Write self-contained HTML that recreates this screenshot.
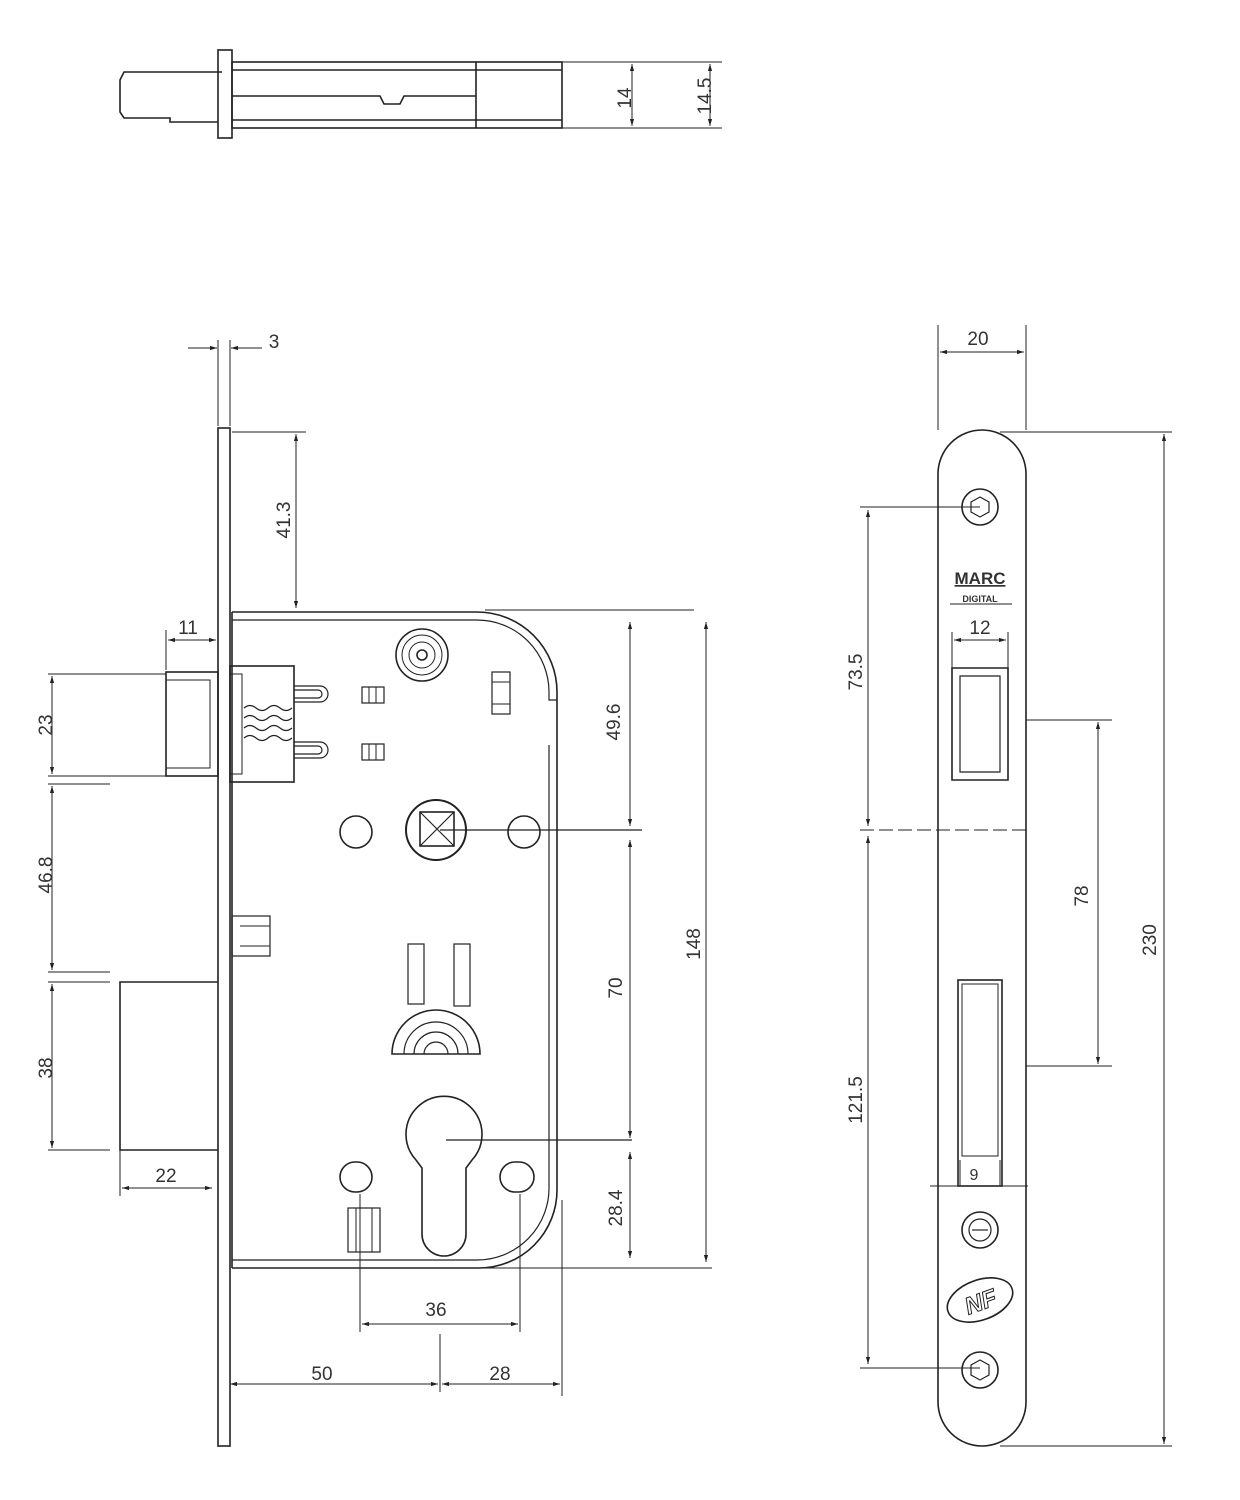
<!DOCTYPE html>
<html><head><meta charset="utf-8"><style>
html,body{margin:0;padding:0;background:#fff;}
svg{display:block;}
text{font-family:"Liberation Sans",sans-serif;font-size:19px;fill:#333;}
</style></head><body>
<svg width="1240" height="1500" viewBox="0 0 1240 1500" xmlns="http://www.w3.org/2000/svg">
<defs>
<marker id="a" viewBox="0 0 10 10" refX="10" refY="5" markerWidth="7" markerHeight="7" orient="auto-start-reverse"><path d="M0,2 L10,5 L0,8 z" fill="#222"/></marker>
</defs>
<g fill="none" stroke="#222" stroke-width="1.6">
<!-- TOP VIEW -->
<path d="M222,72 L124,72 L120,80 L120,112 L124,118 L170,118 L170,122 L218,122"/>
<rect x="218" y="50" width="14" height="88"/>
<rect x="232" y="62" width="330" height="66"/>
<line x1="232" y1="70" x2="562" y2="70"/>
<line x1="232" y1="120" x2="562" y2="120"/>
<line x1="476" y1="62" x2="476" y2="128"/>
<path d="M232,96 L380,96 L384,104 L400,104 L404,96 L476,96"/>
<line x1="562" y1="62" x2="722" y2="62" stroke-width="1"/>
<line x1="562" y1="128" x2="722" y2="128" stroke-width="1"/>
<line x1="632" y1="64" x2="632" y2="126" stroke-width="1" marker-start="url(#a)" marker-end="url(#a)"/>
<line x1="710" y1="64" x2="710" y2="126" stroke-width="1" marker-start="url(#a)" marker-end="url(#a)"/>

<!-- MAIN LOCK -->
<rect x="218" y="428" width="12" height="1018"/>
<path d="M232,612 L477,612 A80,80 0 0 1 557,692 L557,1190 A78,78 0 0 1 479,1268 L232,1268"/>
<path d="M232,620 L477,620 A72,72 0 0 1 549,692 L549,700 L557,700" stroke-width="1.2"/>
<path d="M549,745 L549,1186 A72,72 0 0 1 477,1260 L232,1260" stroke-width="1.2"/>
<line x1="232" y1="612" x2="232" y2="1268"/>
<!-- latch -->
<rect x="166" y="672" width="52" height="104"/>
<rect x="166" y="680" width="44" height="88" stroke-width="1"/>
<rect x="230" y="666" width="64" height="116"/>
<rect x="230" y="674" width="12" height="100" stroke-width="1"/>
<path d="M244,708 q6,-5 12,0 q6,5 12,0 q6,-5 12,0 q6,5 12,0 M244,718 q6,-5 12,0 q6,5 12,0 q6,-5 12,0 q6,5 12,0 M244,728 q6,-5 12,0 q6,5 12,0 q6,-5 12,0 q6,5 12,0 M244,738 q6,-5 12,0 q6,5 12,0 q6,-5 12,0 q6,5 12,0" stroke-width="1.2"/>
<path d="M294,686 L320,686 A8,8 0 0 1 320,702 L294,702 M294,690 L318,690 A4,4 0 0 1 318,698 L294,698" stroke-width="1.2"/>
<path d="M294,742 L320,742 A8,8 0 0 1 320,758 L294,758 M294,746 L318,746 A4,4 0 0 1 318,754 L294,754" stroke-width="1.2"/>
<rect x="362" y="687" width="22" height="16" stroke-width="1.2"/><line x1="369" y1="687" x2="369" y2="703" stroke-width="1"/><line x1="376" y1="687" x2="376" y2="703" stroke-width="1"/>
<rect x="362" y="744" width="22" height="16" stroke-width="1.2"/><line x1="369" y1="744" x2="369" y2="760" stroke-width="1"/><line x1="376" y1="744" x2="376" y2="760" stroke-width="1"/>
<circle cx="422" cy="655" r="26"/><circle cx="422" cy="655" r="20" stroke-width="1"/><circle cx="422" cy="655" r="13" stroke-width="1"/><circle cx="422" cy="655" r="5"/>
<rect x="492" y="672" width="18" height="42" stroke-width="1.2"/><line x1="492" y1="682" x2="510" y2="682" stroke-width="1"/><line x1="492" y1="704" x2="510" y2="704" stroke-width="1"/>
<circle cx="356" cy="832" r="16"/>
<circle cx="524" cy="832" r="16"/>
<circle cx="436" cy="830" r="30" stroke-width="2"/>
<rect x="420" y="812" width="34" height="34"/><path d="M420,812 L454,846 M454,812 L420,846" stroke-width="1.2"/>
<line x1="440" y1="830" x2="642" y2="830" stroke-width="1.2"/>
<!-- side small part -->
<rect x="232" y="916" width="38" height="40" stroke-width="1.2"/><line x1="240" y1="926" x2="270" y2="926" stroke-width="1"/><line x1="240" y1="946" x2="270" y2="946" stroke-width="1"/>
<!-- deadbolt -->
<path d="M218,982 L120,982 L120,1150 L218,1150"/>
<!-- slots -->
<rect x="408" y="944" width="16" height="60" stroke-width="1.2"/>
<rect x="454" y="944" width="16" height="62" stroke-width="1.2"/>
<path d="M392,1054 A44,44 0 0 1 480,1054 Z"/>
<path d="M404,1054 A32,32 0 0 1 468,1054 M414,1054 A22,22 0 0 1 458,1054 M424,1054 A12,12 0 0 1 448,1054" stroke-width="1.2"/>
<!-- cylinder -->
<path d="M416,1160 A38,38 0 1 1 472,1160 L466,1168 L466,1234 A22,22 0 0 1 422,1234 L422,1168 Z"/>
<line x1="446" y1="1140" x2="632" y2="1140" stroke-width="1.2"/>
<rect x="340" y="1162" width="32" height="30" rx="15"/>
<rect x="500" y="1162" width="34" height="30" rx="15"/>
<rect x="348" y="1208" width="32" height="44" stroke-width="1.2"/><line x1="356" y1="1208" x2="356" y2="1252" stroke-width="1"/><line x1="372" y1="1208" x2="372" y2="1252" stroke-width="1"/>
</g>
<g fill="none" stroke="#222" stroke-width="1">
<!-- dims main -->
<line x1="218" y1="340" x2="218" y2="426"/><line x1="230" y1="340" x2="230" y2="426"/>
<line x1="188" y1="348" x2="217" y2="348" marker-end="url(#a)"/><line x1="262" y1="348" x2="231" y2="348" marker-end="url(#a)"/>
<line x1="232" y1="432" x2="306" y2="432"/>
<line x1="296" y1="434" x2="296" y2="608" marker-start="url(#a)" marker-end="url(#a)"/>
<line x1="485" y1="610" x2="694" y2="610"/>
<line x1="166" y1="630" x2="166" y2="670"/>
<line x1="168" y1="640" x2="216" y2="640" marker-start="url(#a)" marker-end="url(#a)"/>
<line x1="48" y1="674" x2="166" y2="674"/><line x1="48" y1="776" x2="166" y2="776"/>
<line x1="52" y1="676" x2="52" y2="774" marker-start="url(#a)" marker-end="url(#a)"/>
<line x1="48" y1="784" x2="110" y2="784"/><line x1="48" y1="972" x2="110" y2="972"/>
<line x1="52" y1="786" x2="52" y2="970" marker-start="url(#a)" marker-end="url(#a)"/>
<line x1="48" y1="982" x2="110" y2="982"/><line x1="48" y1="1150" x2="110" y2="1150"/>
<line x1="52" y1="984" x2="52" y2="1148" marker-start="url(#a)" marker-end="url(#a)"/>
<line x1="120" y1="1150" x2="120" y2="1196"/>
<line x1="122" y1="1188" x2="212" y2="1188" marker-start="url(#a)" marker-end="url(#a)"/>
<line x1="630" y1="622" x2="630" y2="826" marker-start="url(#a)" marker-end="url(#a)"/>
<line x1="630" y1="840" x2="630" y2="1138" marker-start="url(#a)" marker-end="url(#a)"/>
<line x1="630" y1="1152" x2="630" y2="1258" marker-start="url(#a)" marker-end="url(#a)"/>
<line x1="485" y1="1268" x2="712" y2="1268"/>
<line x1="706" y1="622" x2="706" y2="1262" marker-start="url(#a)" marker-end="url(#a)"/>
<line x1="360" y1="1194" x2="360" y2="1332"/><line x1="520" y1="1194" x2="520" y2="1332"/>
<line x1="362" y1="1324" x2="518" y2="1324" marker-start="url(#a)" marker-end="url(#a)"/>
<line x1="440" y1="1334" x2="440" y2="1392"/><line x1="562" y1="1200" x2="562" y2="1396"/>
<line x1="230" y1="1384" x2="438" y2="1384" marker-start="url(#a)" marker-end="url(#a)"/>
<line x1="442" y1="1384" x2="560" y2="1384" marker-start="url(#a)" marker-end="url(#a)"/>
</g>
<g fill="none" stroke="#222" stroke-width="1.6">
<!-- RIGHT FACEPLATE -->
<rect x="938" y="430" width="88" height="1016" rx="44"/>
<circle cx="980" cy="507" r="18"/><polygon points="980,497 989,502 989,512 980,517 971,512 971,502" stroke-width="1.2"/>
<circle cx="980" cy="1370" r="18"/><polygon points="980,1360 989,1365 989,1375 980,1380 971,1375 971,1365" stroke-width="1.2"/>
<path d="M952,668 L1008,668 L1008,780 L952,780 Z"/>
<path d="M960,676 L1000,676 L1000,772 L960,772 Z" stroke-width="1.2"/>
<rect x="958" y="980" width="44" height="206"/>
<rect x="962" y="984" width="36" height="172" stroke-width="1"/>
<circle cx="980" cy="1230" r="18"/><circle cx="980" cy="1230" r="11" stroke-width="1.2"/><line x1="972" y1="1230" x2="988" y2="1230" stroke-width="1.2"/>
<ellipse cx="980" cy="1300" rx="34" ry="20" transform="rotate(-20 980 1300)"/>
</g>
<g fill="none" stroke="#222" stroke-width="1">
<line x1="938" y1="325" x2="938" y2="430"/><line x1="1026" y1="325" x2="1026" y2="430"/>
<line x1="940" y1="352" x2="1024" y2="352" marker-start="url(#a)" marker-end="url(#a)"/>
<line x1="860" y1="507" x2="980" y2="507"/>
<line x1="868" y1="510" x2="868" y2="826" marker-start="url(#a)" marker-end="url(#a)"/>
<line x1="860" y1="830" x2="1030" y2="830" stroke-dasharray="14,5"/>
<line x1="868" y1="836" x2="868" y2="1364" marker-start="url(#a)" marker-end="url(#a)"/>
<line x1="860" y1="1368" x2="980" y2="1368"/>
<line x1="952" y1="632" x2="952" y2="668"/><line x1="1008" y1="632" x2="1008" y2="668"/>
<line x1="954" y1="640" x2="1006" y2="640" marker-start="url(#a)" marker-end="url(#a)"/>
<line x1="1026" y1="720" x2="1112" y2="720"/><line x1="1026" y1="1066" x2="1112" y2="1066"/>
<line x1="1098" y1="722" x2="1098" y2="1064" marker-start="url(#a)" marker-end="url(#a)"/>
<line x1="1000" y1="432" x2="1172" y2="432"/><line x1="1000" y1="1446" x2="1172" y2="1446"/>
<line x1="1164" y1="434" x2="1164" y2="1444" marker-start="url(#a)" marker-end="url(#a)"/>
<line x1="930" y1="1186" x2="1028" y2="1186"/>
<line x1="960" y1="1160" x2="960" y2="1186"/><line x1="1000" y1="1160" x2="1000" y2="1186"/>
</g>
<!-- texts -->
<text x="625" y="98" text-anchor="middle" transform="rotate(-90 625 98)" dy="6">14</text>
<text x="705" y="96" text-anchor="middle" transform="rotate(-90 705 96)" dy="6">14.5</text>
<text x="274" y="348" text-anchor="middle">3</text>
<text x="284" y="520" text-anchor="middle" transform="rotate(-90 284 520)" dy="6">41.3</text>
<text x="188" y="634" text-anchor="middle">11</text>
<text x="46" y="725" text-anchor="middle" transform="rotate(-90 46 725)" dy="6">23</text>
<text x="46" y="875" text-anchor="middle" transform="rotate(-90 46 875)" dy="6">46.8</text>
<text x="46" y="1068" text-anchor="middle" transform="rotate(-90 46 1068)" dy="6">38</text>
<text x="166" y="1182" text-anchor="middle">22</text>
<text x="614" y="722" text-anchor="middle" transform="rotate(-90 614 722)" dy="6">49.6</text>
<text x="616" y="988" text-anchor="middle" transform="rotate(-90 616 988)" dy="6">70</text>
<text x="616" y="1208" text-anchor="middle" transform="rotate(-90 616 1208)" dy="6">28.4</text>
<text x="694" y="944" text-anchor="middle" transform="rotate(-90 694 944)" dy="6">148</text>
<text x="436" y="1316" text-anchor="middle">36</text>
<text x="322" y="1380" text-anchor="middle">50</text>
<text x="500" y="1380" text-anchor="middle">28</text>
<text x="978" y="345" text-anchor="middle">20</text>
<text x="980" y="634" text-anchor="middle">12</text>
<text x="856" y="672" text-anchor="middle" transform="rotate(-90 856 672)" dy="6">73.5</text>
<text x="856" y="1100" text-anchor="middle" transform="rotate(-90 856 1100)" dy="6">121.5</text>
<text x="1082" y="896" text-anchor="middle" transform="rotate(-90 1082 896)" dy="6">78</text>
<text x="1150" y="940" text-anchor="middle" transform="rotate(-90 1150 940)" dy="6">230</text>
<text x="974" y="1180" text-anchor="middle" style="font-size:16px">9</text>
<text x="980" y="584" text-anchor="middle" style="font-size:17px;font-weight:bold;text-decoration:underline">MARC</text>
<text x="980" y="602" text-anchor="middle" style="font-size:9px;font-weight:bold">DIGITAL</text>
<line x1="950" y1="604" x2="1012" y2="604" stroke="#222" stroke-width="1"/>
<text x="980" y="1310" text-anchor="middle" transform="rotate(-20 980 1300)" style="font-size:24px;font-style:italic;font-weight:bold;fill:none;stroke:#222;stroke-width:1">NF</text>
</svg>
</body></html>
